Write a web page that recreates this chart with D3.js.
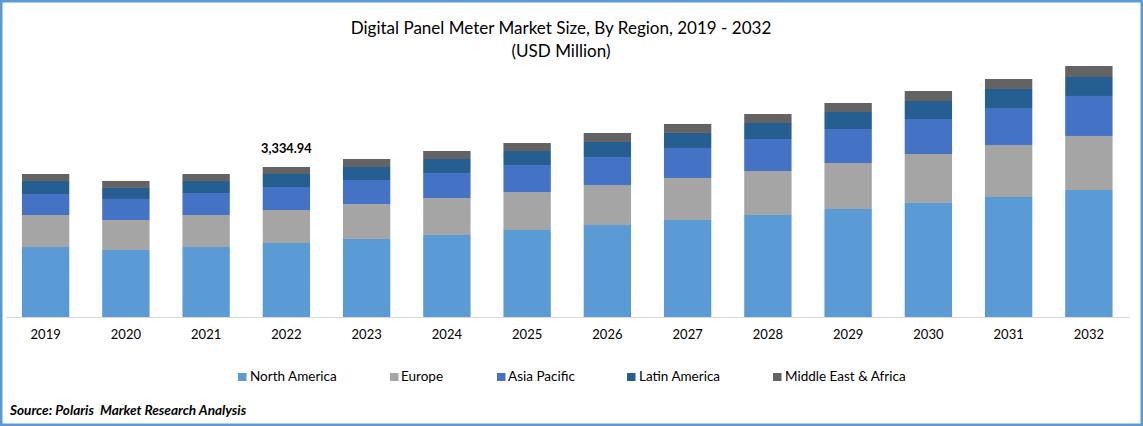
<!DOCTYPE html>
<html>
<head>
<meta charset="utf-8">
<script src="https://d3js.org/d3.v7.min.js"></script>
<style>
  html, body { margin: 0; padding: 0; background: #fff; }
  text { font-family: Lato, "Open Sans", sans-serif; fill: #000; }
</style>
</head>
<body>
<div id="canvas"></div>
<script>
"use strict"

/* Values, USD million */
let years = ["2019", "2020", "2021", "2022", "2023", "2024", "2025", "2026", "2027", "2028", "2029", "2030", "2031", "2032"];
let regions = ["North America", "Europe", "Asia Pacific", "Latin America", "Middle East & Africa"];
let northAmerica = [1556, 1490, 1556, 1645, 1734, 1823, 1934, 2045, 2157, 2268, 2401, 2535, 2668, 2824];
let europe = [711, 667, 711, 734, 778, 823, 845, 889, 934, 978, 1023, 1089, 1156, 1201];
let asiaPacific = [467, 467, 489, 511, 534, 556, 600, 623, 667, 711, 756, 778, 823, 889];
let latinAmerica = [289, 245, 267, 289, 289, 311, 311, 334, 334, 356, 378, 400, 422, 422];
let middleEastAfrica = [156, 156, 156, 156, 178, 178, 178, 200, 200, 200, 200, 222, 222, 245];
let regionColors = ["#5b9bd5", "#a5a5a5", "#4472c4", "#255e91", "#636363"];
let calloutYear = "2022";
let calloutLabel = "3,334.94";

let width = 1143;
let height = 426;

let drawing = d3.select("#canvas")
    .append("svg")
    .attr("width", width)
    .attr("height", height)
    .style("display", "block");

/* Blue frame around the whole picture */
let frame = drawing.append("rect")
    .attr("x", 1.25)
    .attr("y", 1.25)
    .attr("width", width - 2.5)
    .attr("height", height - 2.5)
    .attr("fill", "#fff")
    .attr("stroke", "#5b9bd5")
    .attr("stroke-width", 2.5);

/* Title */
let title = drawing.append("text")
    .attr("x", 561)
    .attr("y", 34)
    .attr("text-anchor", "middle")
    .attr("font-size", 17.05)
    .text("Digital Panel Meter Market Size, By Region, 2019 - 2032");

let subtitle = drawing.append("text")
    .attr("x", 561)
    .attr("y", 57)
    .attr("text-anchor", "middle")
    .attr("font-size", 17.05)
    .text("(USD Million)");

/* Scales */
let x = d3.scaleBand()
    .domain(years)
    .range([5.5, 1129])
    .paddingInner(0.41)
    .paddingOuter(0.205);

let y = d3.scaleLinear()
    .domain([0, 3334.94])
    .range([317, 167]);

/* Stacked bars */
let rows = years.map(function (year, i) {
    return {
        year: year,
        "North America": northAmerica[i],
        "Europe": europe[i],
        "Asia Pacific": asiaPacific[i],
        "Latin America": latinAmerica[i],
        "Middle East & Africa": middleEastAfrica[i]
    };
});

let stacked = d3.stack().keys(regions)(rows);

let layers = drawing.selectAll("g.layer")
    .data(stacked)
    .join("g")
    .attr("class", "layer")
    .attr("fill", function (d, i) { return regionColors[i]; });

layers.selectAll("rect")
    .data(function (d) { return d; })
    .join("rect")
    .attr("x", function (d) { return x(d.data.year); })
    .attr("y", function (d) { return y(d[1]); })
    .attr("width", x.bandwidth())
    .attr("height", function (d) { return y(d[0]) - y(d[1]); });

/* X axis */
let xAxis = drawing.append("g")
    .attr("transform", "translate(0," + y(0) + ")")
    .call(d3.axisBottom(x).tickSize(0).tickPadding(13));

xAxis.select(".domain")
    .attr("stroke", "#d9d9d9")
    .attr("stroke-width", 1.2);

xAxis.selectAll("text")
    .attr("font-size", 13)
    .style("font-family", "Lato, 'Open Sans', sans-serif")
    .style("fill", "#000");

/* Label over the 2022 bar */
let callout = drawing.append("text")
    .attr("x", x(calloutYear) + x.bandwidth() / 2)
    .attr("y", 153)
    .attr("text-anchor", "middle")
    .attr("font-size", 12.8)
    .attr("font-weight", "bold")
    .text(calloutLabel);

/* Legend */
let legendSwatchX = [238, 390, 497, 627, 773];
let legendTextX = [250, 401, 508, 639, 785];

let legend = drawing.selectAll("g.legend")
    .data(regions)
    .join("g")
    .attr("class", "legend");

legend.append("rect")
    .attr("x", function (d, i) { return legendSwatchX[i]; })
    .attr("y", 373)
    .attr("width", 8.5)
    .attr("height", 8)
    .attr("fill", function (d, i) { return regionColors[i]; });

legend.append("text")
    .attr("x", function (d, i) { return legendTextX[i]; })
    .attr("y", 381)
    .attr("font-size", 13.5)
    .text(function (d) { return d; });

/* Source line */
let source = drawing.append("text")
    .attr("x", 10)
    .attr("y", 415)
    .attr("font-size", 13.6)
    .attr("font-weight", "bold")
    .attr("font-style", "italic")
    .attr("xml:space", "preserve")
    .style("white-space", "pre")
    .text("Source: Polaris  Market Research Analysis");
</script>
</body>
</html>
